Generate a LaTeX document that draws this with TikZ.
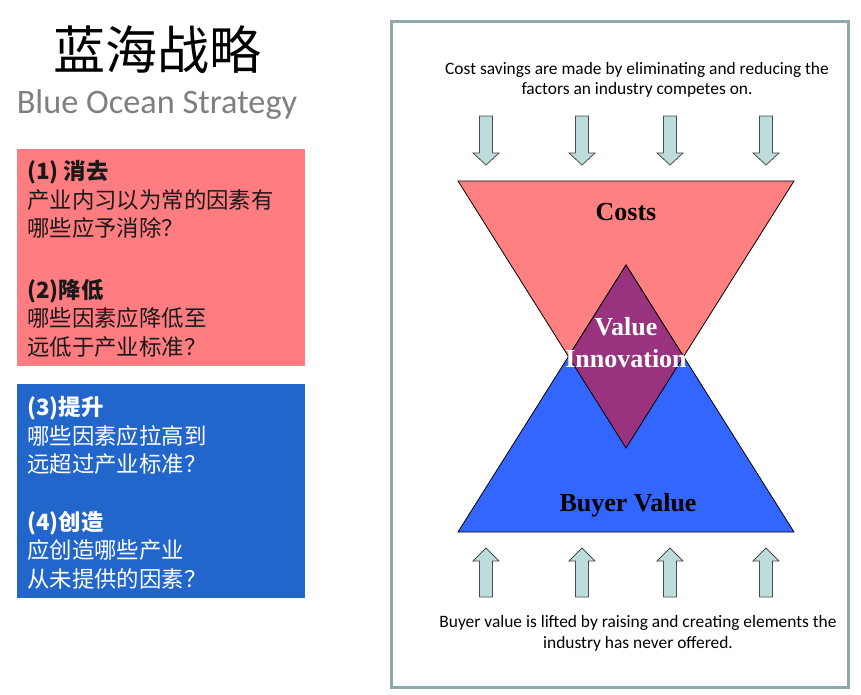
\documentclass[tikz,border=0pt]{standalone}
\usepackage{fontspec}
\setmainfont{Carlito}
\newfontfamily\cjk{Noto Sans CJK SC}
\newfontfamily\timesfont{Liberation Serif}
\usetikzlibrary{positioning}
\definecolor{costred}{HTML}{FF8080}
\definecolor{buyerblue}{HTML}{3366FF}
\definecolor{innovpurple}{HTML}{993380}
\definecolor{boxred}{HTML}{FF7C80}
\definecolor{boxblue}{HTML}{2266CC}
\definecolor{framegray}{HTML}{8FA9AA}
\definecolor{arrowfill}{HTML}{BDDCDC}
\definecolor{subgray}{HTML}{7F7F7F}
\tikzset{
    blockarrow/.style={fill=arrowfill, draw=black!70, line width=0.8pt, line join=miter},
    trilabel/.style={font=\timesfont\bfseries\fontsize{26}{32}\selectfont, align=center},
    note/.style={font=\fontsize{17.4}{20.5}\selectfont, align=center},
    question/.style={font=\cjk\fontsize{22.4}{28.5}\selectfont, align=left, anchor=base west, inner sep=0pt},
}

\begin{document}
\begin{tikzpicture}[x=1pt,y=-1pt] % blue ocean strategy
	\useasboundingbox (0,0) rectangle (861,695);
	\node[font=\cjk\fontsize{52}{60}\selectfont] (title) at (157,50) {蓝海战略};
	\node[font=\fontsize{34.3}{40}\selectfont, text=subgray] (subtitle) at (157,105) {Blue Ocean Strategy};
	\fill[boxred] (17,149) rectangle (305,366);
	\fill[boxblue] (17,384) rectangle (305,598);
	% base anchor sits on the last line
	\node[question, text=black!90] (cut) at (27,355) {{\bfseries (1) 消去}\\产业内习以为常的因素有\\哪些应予消除？\\[33pt]{\bfseries (2)降低}\\哪些因素应降低至\\远低于产业标准？};
	\node[question, text=white] (raise) at (27,587) {{\bfseries (3)提升}\\哪些因素应拉高到\\远超过产业标准？\\[29pt]{\bfseries (4)创造}\\应创造哪些产业\\从未提供的因素？};
	% right panel
	\draw[framegray, line width=3pt] (391,22) rectangle (848,687);
	\node[note] (top) at (637,80) {Cost savings are made by eliminating and reducing the\\factors an industry competes on.};
	\foreach \x in {486,582,670,766}
		\draw[blockarrow] (\x-6.5,116) -- (\x+6.5,116) -- (\x+6.5,153) -- (\x+13,153) -- (\x,165) -- (\x-13,153) -- (\x-6.5,153) -- cycle;
	\draw[fill=costred, line width=0.8pt] (458,181) -- (794,181) -- (626,448) -- cycle;
	\draw[fill=buyerblue, line width=0.8pt] (458,532) -- (794,532) -- (626,265) -- cycle;
	\draw[fill=innovpurple, line width=0.8pt] (626,265) -- (568.4,356.5) -- (626,448) -- (683.6,356.5) -- cycle;
	\node[trilabel] (costs) at (626,212) {Costs};
	\node[trilabel, text=white] (innov) at (626,343) {Value\\Innovation};
	\node[trilabel] (buyer) at (628,505) {Buyer Value};
	\foreach \x in {486,582,670,766}
		\draw[blockarrow] (\x-6.5,597) -- (\x+6.5,597) -- (\x+6.5,561) -- (\x+13,561) -- (\x,548) -- (\x-13,561) -- (\x-6.5,561) -- cycle;
	\node[note] (bottom) at (638,633.5) {Buyer value is lifted by raising and creating elements the\\industry has never offered.};
\end{tikzpicture}
\end{document}
